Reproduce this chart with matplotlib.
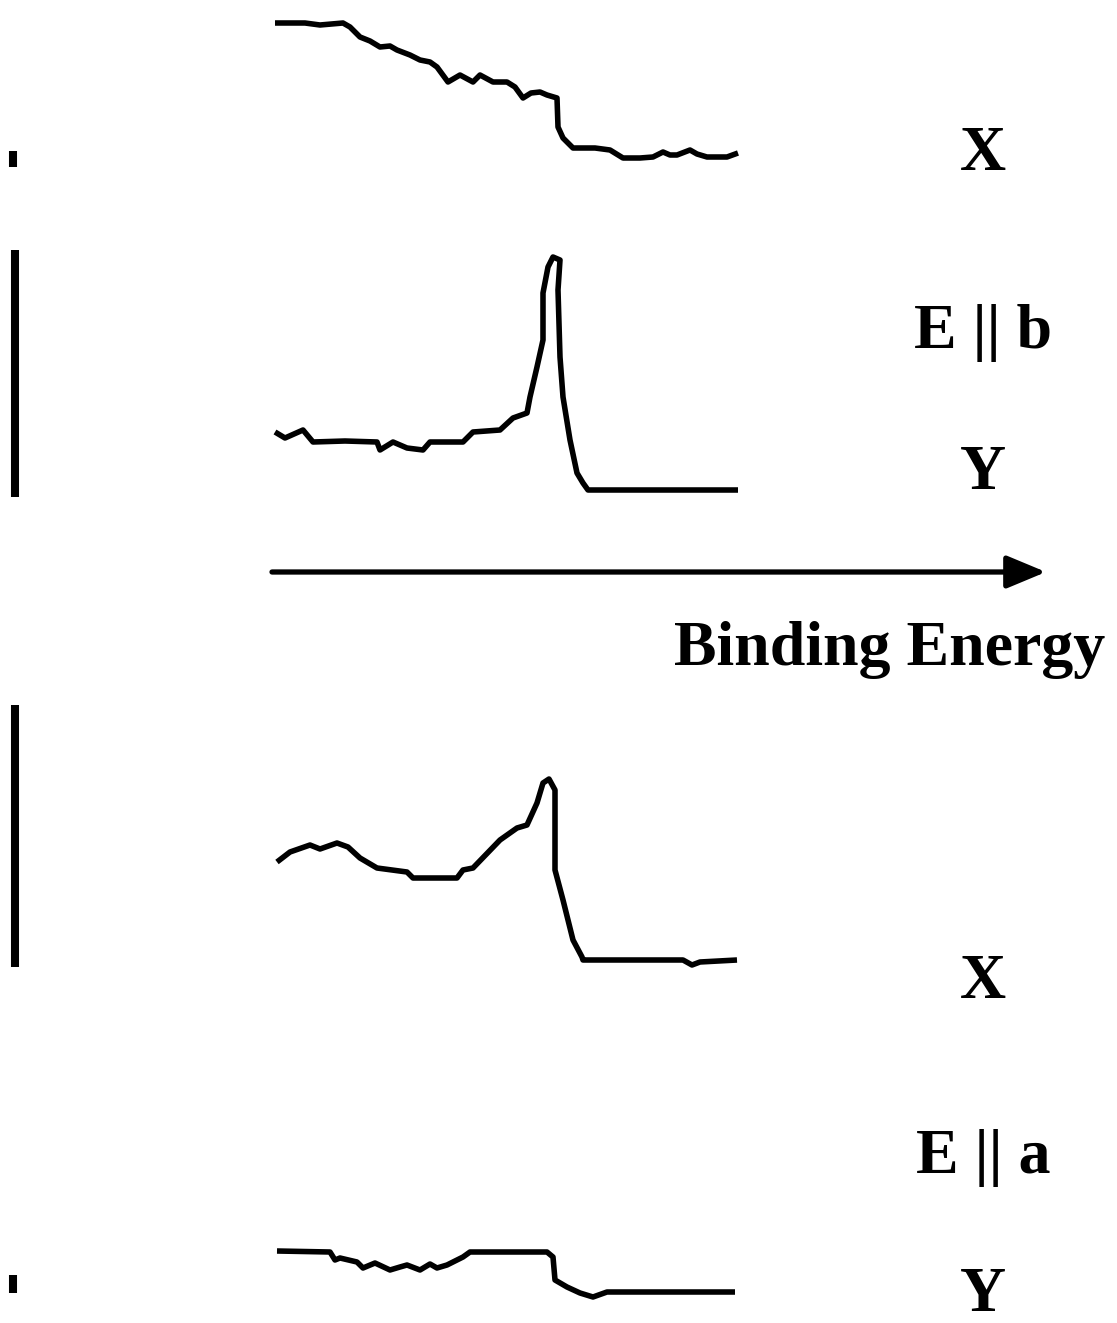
import matplotlib
matplotlib.use("Agg")
import matplotlib.pyplot as plt

# energy axis (arbitrary units) shared by all four traces
# E || b, X
eb_x_energy = [0.0, 3.0, 4.5, 6.8, 7.5, 8.5, 9.5, 10.5, 11.5, 12.2, 13.5, 14.5, 15.5, 16.2,
               17.3, 18.5, 19.8, 20.5, 21.8, 23.2, 24.0, 24.8, 25.6, 26.5, 27.2, 28.2,
               28.3, 28.8, 29.8, 32.0, 33.5, 34.8, 36.5, 37.8, 38.8, 39.5, 40.2, 41.5,
               42.2, 43.2, 45.2, 46.3]
eb_x_int = [14.7, 14.7, 14.5, 14.7, 14.3, 13.3, 12.9, 12.3, 12.4, 12.0, 11.5, 11.0, 10.8, 10.3,
            8.8, 9.5, 8.8, 9.5, 8.8, 8.8, 8.3, 7.2, 7.7, 7.8, 7.5, 7.2,
            4.3, 3.2, 2.2, 2.2, 2.0, 1.2, 1.2, 1.3, 1.8, 1.5, 1.5, 2.0,
            1.6, 1.3, 1.3, 1.7]

# E || b, Y
eb_y_energy = [0.0, 1.0, 2.8, 3.8, 7.0, 10.2, 10.5, 11.8, 13.2, 14.8, 15.5, 18.8, 19.8,
               22.5, 23.8, 25.2, 25.5, 26.2, 26.8, 26.8, 27.3, 27.8, 28.5, 28.3, 28.5,
               28.8, 29.5, 30.2, 30.8, 31.3, 46.3]
eb_y_int = [6.8, 6.2, 7.0, 5.8, 5.9, 5.8, 5.0, 5.8, 5.2, 5.0, 5.8, 5.8, 6.8,
            7.0, 8.2, 8.7, 10.3, 13.3, 16.0, 20.7, 23.3, 24.3, 24.0, 21.0, 14.3,
            10.3, 6.0, 2.7, 1.7, 1.0, 1.0]

# E || a, X
ea_x_energy = [0.2, 1.5, 3.5, 4.5, 6.2, 7.3, 8.5, 10.2, 13.2, 13.8, 18.2, 18.8, 19.8,
               22.5, 24.2, 25.2, 26.2, 26.8, 27.4, 28.0, 28.0, 28.8, 29.8, 30.7, 30.8,
               40.8, 41.7, 42.5, 46.2]
ea_x_int = [11.3, 12.3, 13.0, 12.6, 13.2, 12.8, 11.7, 10.7, 10.3, 9.7, 9.7, 10.5, 10.7,
            13.5, 14.7, 15.0, 17.2, 19.2, 19.6, 18.5, 10.5, 7.5, 3.5, 1.8, 1.5,
            1.5, 1.0, 1.3, 1.5]

# E || a, Y
ea_y_energy = [0.2, 5.5, 6.0, 6.5, 8.2, 8.8, 10.0, 11.5, 12.5, 13.2, 14.5, 15.5, 16.2, 17.2,
               18.8, 19.5, 27.2, 27.8, 28.0, 29.2, 30.5, 31.8, 33.2, 46.0]
ea_y_int = [5.4, 5.3, 4.5, 4.7, 4.3, 3.7, 4.2, 3.5, 3.8, 4.0, 3.5, 4.1, 3.7, 4.0,
            4.8, 5.3, 5.3, 4.8, 2.5, 1.8, 1.2, 0.8, 1.3, 1.3]

W, H = 1117, 1323
fig = plt.figure(figsize=(W / 100, H / 100), dpi=100)


def panel(top, bottom, ymax, xs, ys):
    # axes placed by pixel box, x from 265 to 750 px
    ax = fig.add_axes([265 / W, 1 - bottom / H, 485 / W, (bottom - top) / H])
    ax.plot(xs, ys, color="black", lw=4.0, solid_joinstyle="round",
            solid_capstyle="butt")
    ax.set_xlim(-1, 47.5)
    ax.set_ylim(0, ymax)
    ax.axis("off")
    return ax


panel(10, 170, 16, eb_x_energy, eb_x_int)
panel(245, 500, 25.5, eb_y_energy, eb_y_int)
panel(770, 975, 20.5, ea_x_energy, ea_x_int)
panel(1240, 1305, 6.5, ea_y_energy, ea_y_int)

# overlay for scale bars, arrow and labels (pixel coordinates)
ov = fig.add_axes([0, 0, 1, 1])
ov.set_xlim(0, W)
ov.set_ylim(H, 0)
ov.axis("off")
ov.patch.set_alpha(0)

ov.vlines([13, 15, 15, 13], [151, 250, 705, 1275], [167, 497, 967, 1293],
          color="black", lw=5.8)

ov.annotate("", xy=(1046, 572), xytext=(272, 572),
            arrowprops=dict(arrowstyle="-|>,head_length=2.4,head_width=1.0",
                            color="black", lw=3.8, shrinkA=0, shrinkB=0))

font = dict(family="Liberation Serif", fontweight="bold", fontsize=46,
            ha="center", va="center", color="black")
ov.text(983, 155, "X", **font)
ov.text(983, 333, "E || b", **font)
ov.text(983, 474, "Y", **font)
ov.text(890, 650, "Binding Energy", **font)
ov.text(983, 983, "X", **font)
ov.text(983, 1158, "E || a", **font)
ov.text(983, 1296, "Y", **font)

fig.savefig("out.png", dpi=100, facecolor="white")
